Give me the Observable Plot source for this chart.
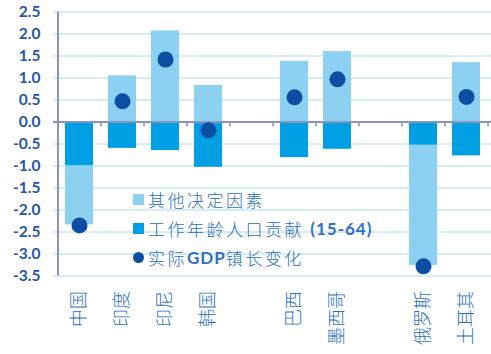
<!DOCTYPE html>
<html>
<head>
<meta charset="utf-8">
<script src="https://cdn.jsdelivr.net/npm/d3@7"></script>
<script src="https://cdn.jsdelivr.net/npm/@observablehq/plot@0.6"></script>
<style>
  body { margin: 0; background: #fff; }
  #wrap { position: relative; width: 491px; height: 354px; }
  .legend { position: absolute; left: 133px; top: 185px; font-family: "Noto Sans CJK SC", sans-serif; font-weight: 300; font-size: 17px; color: #2a70c6; letter-spacing: 2.5px; }
  .row { position: absolute; left: 0; height: 20px; white-space: nowrap; display: flex; align-items: center; }
  .sw { width: 11px; height: 11px; margin-right: 4px; flex: none; }
  .lat { font-family: Lato, sans-serif; font-weight: 700; letter-spacing: 1px; }
</style>
</head>
<body>
<div id="wrap"></div>
<script>
// ---- data ----
const countries = ["中国", "印度", "印尼", "韩国", "巴西", "墨西哥", "俄罗斯", "土耳其"];
const slots = ["中国", "印度", "印尼", "韩国", " ", "巴西", "墨西哥", "  ", "俄罗斯", "土耳其"];
const workingAge = [-1.00, -0.60, -0.65, -1.03, -0.81, -0.62, -0.53, -0.77];
const otherFactors = [-1.34, 1.05, 2.07, 0.83, 1.38, 1.60, -2.73, 1.35];
const gdpChange = [-2.35, 0.47, 1.42, -0.19, 0.56, 0.97, -3.28, 0.57];
const yTicks = [2.5, 2.0, 1.5, 1.0, 0.5, 0.0, -0.5, -1.0, -1.5, -2.0, -2.5, -3.0, -3.5];
const seriesNames = ["工作年龄人口贡献 (15-64)", "其他决定因素"];
const legendLabels = ["其他决定因素", "工作年龄人口贡献", "(15-64)", "实际", "GDP", "镇长变化"];

// ---- colours ----
const cLight = "#8dd1f2";
const cMid = "#009fe3";
const cDot = "#0b4ea2";
const cGrid = "#c4e6f6";
const cAxis = "#8a93bd";

const stackRows = [];
countries.forEach((c, i) => stackRows.push({country: c, series: seriesNames[0], value: workingAge[i]}));
countries.forEach((c, i) => stackRows.push({country: c, series: seriesNames[1], value: otherFactors[i]}));

const chart = Plot.plot({
  width: 491,
  height: 354,
  marginLeft: 58,
  marginRight: 0,
  marginTop: 11.5,
  marginBottom: 78.5,
  style: {background: "transparent"},
  x: {type: "band", domain: slots, paddingInner: 0.34, paddingOuter: 0.17, insetRight: 3, axis: null},
  y: {domain: [-3.5, 2.5], axis: null},
  marks: [
    Plot.ruleY(yTicks, {stroke: cGrid, strokeWidth: 1.6, insetLeft: -5}),
    Plot.barY(stackRows, {x: "country", y: "value", z: "series", fill: d => d.series === seriesNames[0] ? cMid : cLight}),
    Plot.ruleY([0], {stroke: cAxis, strokeWidth: 2, insetLeft: -5}),
    Plot.ruleX(slots.slice(0, 1), {x: d => d, dx: -21.5, stroke: cAxis, strokeWidth: 2}),
    Plot.ruleX(slots.slice(1), {x: d => d, y1: 0, y2: 0, dx: -21.5, insetBottom: -5, stroke: cAxis, strokeWidth: 1.5}),
    Plot.ruleX(slots.slice(-1), {x: d => d, y1: 0, y2: 0, dx: 21.5, insetBottom: -5, stroke: cAxis, strokeWidth: 1.5}),
    Plot.dot(countries, {x: d => d, y: (d, i) => gdpChange[i], r: 8, fill: cDot}),
    Plot.axisY(yTicks, {label: null, tickSize: 0, tickPadding: 18, tickFormat: d => d.toFixed(1), fontSize: 15.5, fontWeight: 700, fontFamily: "Lato, sans-serif", fill: "#1f56a8"}),
    Plot.text(countries, {x: d => d, frameAnchor: "bottom", dy: 15, rotate: -90, textAnchor: "end", lineAnchor: "middle", fontSize: 18, fontWeight: 300, fontFamily: "Noto Sans CJK SC, sans-serif", fill: "#2a70c6", style: "letter-spacing:1px"})
  ]
});
const wrap = document.getElementById("wrap");
wrap.appendChild(chart);

const legend = document.createElement("div");
legend.className = "legend";
legend.innerHTML = `
  <div class="row" style="top:4px"><span class="sw" style="background:${cLight}"></span>${legendLabels[0]}</div>
  <div class="row" style="top:33px"><span class="sw" style="background:${cMid}"></span>${legendLabels[1]}&nbsp;<span class="lat">${legendLabels[2]}</span></div>
  <div class="row" style="top:62px"><span class="sw" style="background:${cDot};border-radius:50%"></span>${legendLabels[3]}<span class="lat">${legendLabels[4]}</span>${legendLabels[5]}</div>`;
wrap.appendChild(legend);
</script>
</body>
</html>
